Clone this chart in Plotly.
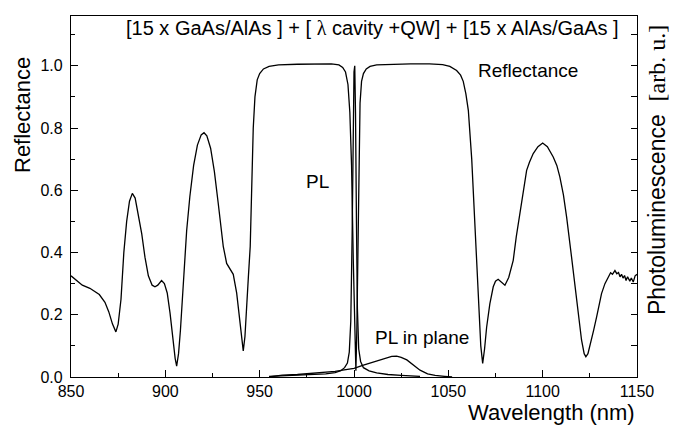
import plotly.graph_objects as go

# Reflectance spectrum
wl_R = [850, 853, 856, 860, 865, 868, 870, 872, 873.8, 875, 876.5, 878, 879.5, 881, 882.5, 884, 885.5, 887.5,
        889.2, 891, 893, 894.5, 896, 898, 899.5, 901, 902.5, 904, 905.2, 906, 907, 908, 909.5, 911.3, 913, 915,
        917, 919, 920.5, 922, 924, 926, 928, 929.9, 930.7, 932.5, 934.5, 936, 937.8, 939.6, 940.5, 941.3, 942.2,
        943.1, 944, 945, 945.8, 946.6, 947.5, 948.7, 950, 952, 955, 960, 970, 980, 988, 992, 994, 995.5, 996.8,
        997.8, 998.7, 999.6, 1000.5, 1001.0, 1001.5, 1002.3, 1003.2, 1004, 1005, 1006.5, 1008.5, 1012, 1020,
        1030, 1040, 1047, 1050.8, 1054.4, 1056.5, 1057.9, 1059.3, 1060.6, 1062.4, 1064.1, 1065.9, 1067.2, 1068.2,
        1069.2, 1070.3, 1072, 1073.8, 1075, 1076.4, 1078, 1080, 1082, 1084.4, 1086, 1088, 1090, 1091.5, 1093,
        1095, 1097.5, 1100, 1102.5, 1105.6, 1107.5, 1109.1, 1111, 1112.7, 1115.3, 1118, 1120.6, 1122, 1122.9,
        1124, 1125, 1127, 1128.6, 1131.2, 1133, 1134.7, 1136, 1137, 1138.3, 1139.3, 1140.2, 1141, 1141.8,
        1142.6, 1143.4, 1144.2, 1145, 1146.2, 1147, 1148, 1149, 1150]
R = [0.325, 0.31, 0.295, 0.285, 0.265, 0.24, 0.21, 0.17, 0.145, 0.17, 0.25, 0.40, 0.50, 0.565, 0.59, 0.575, 0.53,
     0.46, 0.385, 0.325, 0.295, 0.29, 0.295, 0.31, 0.30, 0.27, 0.205, 0.12, 0.06, 0.035, 0.075, 0.15, 0.31, 0.47,
     0.58, 0.68, 0.745, 0.778, 0.785, 0.775, 0.735, 0.66, 0.56, 0.47, 0.42, 0.365, 0.345, 0.33, 0.27, 0.17, 0.11,
     0.084, 0.13, 0.21, 0.32, 0.42, 0.62, 0.80, 0.90, 0.955, 0.975, 0.99, 0.998, 1.003, 1.005, 1.006, 1.006,
     1.003, 0.995, 0.98, 0.94, 0.85, 0.68, 0.38, 0.07, 0.02, 0.15, 0.55, 0.88, 0.95, 0.975, 0.99, 0.998, 1.003,
     1.005, 1.006, 1.006, 1.004, 0.998, 0.985, 0.97, 0.95, 0.91, 0.857, 0.70, 0.48, 0.27, 0.10, 0.044, 0.09,
     0.16, 0.235, 0.29, 0.308, 0.314, 0.305, 0.295, 0.32, 0.375, 0.45, 0.53, 0.62, 0.664, 0.69, 0.718, 0.74,
     0.752, 0.74, 0.707, 0.68, 0.643, 0.585, 0.514, 0.386, 0.247, 0.119, 0.075, 0.065, 0.075, 0.097, 0.15,
     0.193, 0.268, 0.30, 0.322, 0.335, 0.33, 0.342, 0.332, 0.336, 0.322, 0.33, 0.318, 0.326, 0.31, 0.322,
     0.308, 0.318, 0.305, 0.325, 0.33]

# Photoluminescence (vertical emission)
wl_PL = [955, 965, 975, 985, 990, 993, 995, 996.5, 997.5, 998.3, 999, 999.5, 1000, 1000.4, 1000.8, 1001.3,
         1001.8, 1002.5, 1003.5, 1005, 1008, 1012, 1018, 1025, 1035]
PL = [0.002, 0.004, 0.006, 0.01, 0.014, 0.02, 0.03, 0.045, 0.08, 0.18, 0.45, 0.78, 0.98, 1.0, 0.85, 0.5, 0.22,
      0.09, 0.05, 0.03, 0.02, 0.013, 0.008, 0.005, 0.002]

# Photoluminescence in plane
wl_PLip = [955, 962, 970, 982, 990, 994, 1000, 1005, 1010, 1013.7, 1017, 1020, 1022.6, 1025, 1028, 1031, 1035,
           1039, 1043, 1048, 1052]
PLip = [0.0, 0.006, 0.008, 0.013, 0.018, 0.022, 0.028, 0.038, 0.048, 0.055, 0.062, 0.066, 0.067, 0.063, 0.055,
        0.04, 0.022, 0.01, 0.005, 0.002, 0.0]

x_ticks = [850, 900, 950, 1000, 1050, 1100, 1150]
y_ticks = [0.0, 0.2, 0.4, 0.6, 0.8, 1.0]

FONT = "Liberation Sans, Arial, sans-serif"
L, Rm, T, B = 71, 36, 16, 55
W, H = 673, 432
pw, ph = W - L - Rm, H - T - B


def px(x):
    return (x - L) / pw


def py(y):
    return (H - B - y) / ph


fig = go.Figure()
line = dict(color="black", width=1.3)
fig.add_trace(go.Scatter(x=wl_R, y=R, mode="lines", line=line, yaxis="y"))
fig.add_trace(go.Scatter(x=wl_PL, y=PL, mode="lines", line=line, yaxis="y2"))
fig.add_trace(go.Scatter(x=wl_PLip, y=PLip, mode="lines", line=line, yaxis="y2"))

yr = [0, 1.16]
fig.update_layout(
    width=W, height=H, margin=dict(l=L, r=Rm, t=T, b=B),
    paper_bgcolor="white", plot_bgcolor="white", showlegend=False,
    font=dict(family=FONT, color="black", size=16),
    xaxis=dict(range=[850, 1150], tickvals=x_ticks, ticks="inside", ticklen=7, tickwidth=1.2,
               tickcolor="black", showline=True, linecolor="black", linewidth=1.3, mirror=True,
               showgrid=False, zeroline=False, tickfont=dict(size=16, family=FONT),
               minor=dict(dtick=25, tick0=850, ticks="inside", ticklen=4, tickcolor="black", showgrid=False)),
    yaxis=dict(range=yr, tickvals=y_ticks, tickformat=".1f", ticks="inside", ticklen=7, tickwidth=1.2,
               tickcolor="black", showline=True, linecolor="black", linewidth=1.3, mirror=True,
               showgrid=False, zeroline=False, tickfont=dict(size=16, family=FONT), ticklabelstandoff=4,
               minor=dict(dtick=0.1, tick0=0, ticks="inside", ticklen=4, tickcolor="black", showgrid=False)),
    yaxis2=dict(range=yr, overlaying="y", side="right", dtick=0.1, tick0=0, ticks="inside", ticklen=6,
                tickwidth=1.2, tickcolor="black", showticklabels=False, showline=False,
                showgrid=False, zeroline=False),
)

ann = [
    dict(text="Reflectance", x=px(22), y=py(115), textangle=-90, font=dict(size=22)),
    dict(text="Wavelength (nm)", x=1.0, y=py(412), xanchor="right", font=dict(size=22)),
    dict(text="Photoluminescence  <span style=\"font-family:'Liberation Serif';font-size:24px\">[arb. u.]</span>",
         x=px(657), y=py(170), textangle=-90, font=dict(size=23)),
    dict(text="[15 x GaAs/AlAs ] + [ <span style=\"font-family:'Liberation Serif'\">λ</span> cavity +QW] + [15 x AlAs/GaAs ]",
         x=px(372), y=py(28), font=dict(size=20)),
    dict(text="Reflectance", x=px(528), y=py(70), font=dict(size=19)),
    dict(text="PL", x=px(317.5), y=py(181), font=dict(size=19)),
    dict(text="PL in plane", x=px(421.7), y=py(337), font=dict(size=19)),
]
for a in ann:
    a.setdefault("xanchor", "center")
    a.update(xref="paper", yref="paper", showarrow=False, yanchor="middle")
    a["font"] = dict(family=FONT, color="black", size=a["font"]["size"])
fig.update_layout(annotations=ann)

fig.write_html("out.html")
